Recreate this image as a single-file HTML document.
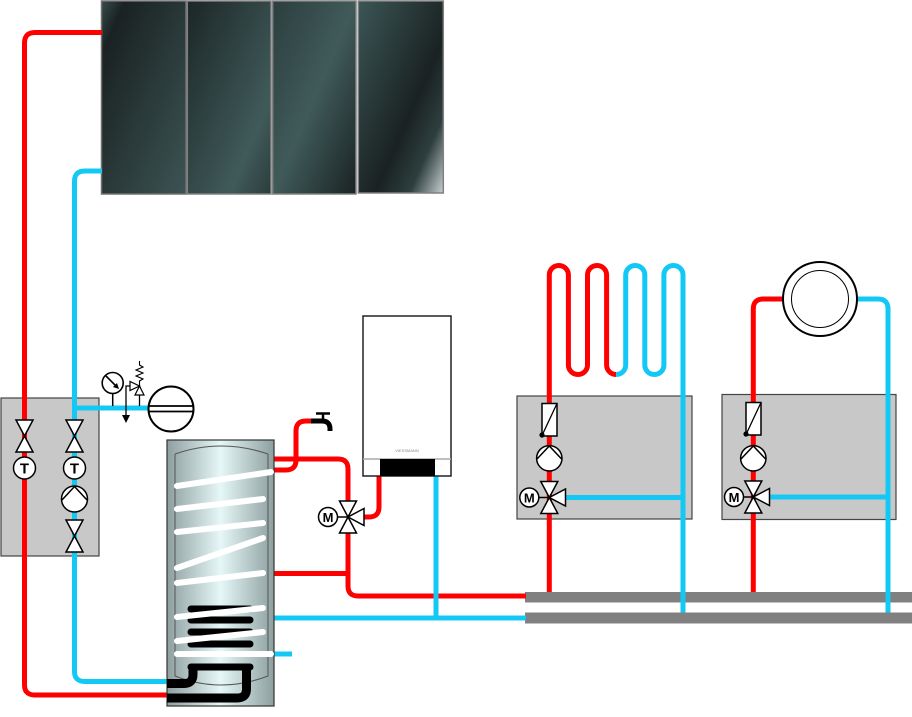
<!DOCTYPE html>
<html><head><meta charset="utf-8"><style>
html,body{margin:0;padding:0;background:#fff;}
svg{display:block;}
text{font-family:"Liberation Sans",sans-serif;}
</style></head><body>
<svg width="912" height="717" viewBox="0 0 912 717" xmlns="http://www.w3.org/2000/svg">
<defs>
<linearGradient id="p1" x1="0" y1="0" x2="1" y2="1"><stop offset="0" stop-color="#364c4c"/><stop offset="0.14" stop-color="#1a2222"/><stop offset="1" stop-color="#3d5454"/></linearGradient>
<linearGradient id="p2" x1="0" y1="0" x2="1" y2="1"><stop offset="0" stop-color="#1c2626"/><stop offset="0.75" stop-color="#405a5a"/><stop offset="1" stop-color="#2c3c3c"/></linearGradient>
<linearGradient id="p3" x1="0" y1="0" x2="1" y2="1"><stop offset="0" stop-color="#2c3e3e"/><stop offset="0.5" stop-color="#405a5a"/><stop offset="1" stop-color="#1a2323"/></linearGradient>
<linearGradient id="p4" x1="0" y1="0" x2="1" y2="1"><stop offset="0" stop-color="#3c5656"/><stop offset="0.6" stop-color="#1a2222"/><stop offset="0.8" stop-color="#2e3e3e"/><stop offset="1" stop-color="#c8d0d0"/></linearGradient>
<linearGradient id="tank" x1="0" y1="0" x2="1" y2="0"><stop offset="0" stop-color="#8e9f9f"/><stop offset="0.5" stop-color="#e6f7f7"/><stop offset="1" stop-color="#8e9f9f"/></linearGradient>
</defs>

<!-- solar panels -->
<rect x="101.5" y="1" width="84.5" height="193" fill="url(#p1)" stroke="#707070" stroke-width="1.5"/>
<rect x="187.3" y="1" width="83.7" height="193" fill="url(#p2)" stroke="#808080" stroke-width="1.5"/>
<rect x="272.7" y="1" width="83.3" height="193" fill="url(#p3)" stroke="#808080" stroke-width="1.5"/>
<rect x="358.3" y="1" width="85" height="192" fill="url(#p4)" stroke="#808080" stroke-width="1.5"/>

<!-- boxes -->
<rect x="1" y="398" width="98" height="158" fill="#c8c8c8" stroke="#444" stroke-width="1.2"/>
<rect x="517" y="396" width="175" height="123" fill="#c8c8c8" stroke="#444" stroke-width="1.2"/>
<rect x="722" y="394.5" width="174" height="125" fill="#c8c8c8" stroke="#444" stroke-width="1.2"/>

<!-- manifold -->
<rect x="525" y="592" width="387" height="10.5" fill="#808080"/>
<rect x="525" y="612.5" width="387" height="11" fill="#808080"/>

<g fill="none" stroke-width="5">
<!-- solar pipes -->
<path d="M102,32.5 H35 Q24.5,32.5 24.5,43 V685 Q24.5,695 35,695 H168" stroke="#ff0000"/>
<path d="M102,171 H85 Q74.5,171 74.5,181 V671.5 Q74.5,681.5 85,681.5 H168" stroke="#14c8f5"/>
<path d="M74.5,408 H150" stroke="#14c8f5"/>

<!-- tank right pipes -->
<path d="M273,470 H286 Q296,470 296,460 V431 Q296,421 306,421 H312" stroke="#ff0000"/>
<path d="M273,459 H338 Q348,459 348,469 V502" stroke="#ff0000"/>
<path d="M273,573.5 H348" stroke="#ff0000"/>
<path d="M348,532 V586 Q348,596 358,596 H526" stroke="#ff0000"/>
<path d="M379,476 V507 Q379,517 369,517 H364" stroke="#ff0000"/>
<path d="M436,476 V618" stroke="#14c8f5"/>
<path d="M273,618 H526" stroke="#14c8f5"/>
<path d="M273,654 H292" stroke="#14c8f5"/>

<!-- tap -->
<path d="M311,421 H322 Q330,421 330,429 V431" stroke="#000"/>

<!-- circuit 1 -->
<path d="M549.3,592 V275 A9.55,9.55 0 0 1 568.4,275 V365 A9.55,9.55 0 0 0 587.5,365 V275 A9.55,9.55 0 0 1 606.6,275 V365 A9.55,9.55 0 0 0 616.15,374.55" stroke="#ff0000"/>
<path d="M616.15,374.55 A9.55,9.55 0 0 0 625.7,365 V275 A9.55,9.55 0 0 1 644.8,275 V365 A9.55,9.55 0 0 0 663.9,365 V275 A9.55,9.55 0 0 1 683,275 V612.5" stroke="#14c8f5"/>
<path d="M566,497.5 H683" stroke="#14c8f5"/>

<!-- circuit 2 -->
<path d="M753.3,592 V309 Q753.3,299 763.3,299 H784" stroke="#ff0000"/>
<path d="M856,299 H878 Q888,299 888,309 V612.5" stroke="#14c8f5"/>
<path d="M770,497 H888" stroke="#14c8f5"/>
</g>

<!-- tap handle -->
<line x1="323" y1="421" x2="323" y2="413.5" stroke="#000" stroke-width="2.5"/>
<line x1="316" y1="413.5" x2="330" y2="413.5" stroke="#000" stroke-width="2.5"/>

<!-- tank -->
<rect x="167" y="440" width="107" height="266" fill="url(#tank)" stroke="#333" stroke-width="1.2"/>
<path d="M175,454 Q221,438 268,454 M175,454 V676 Q221,694 268,676 V454" fill="none" stroke="#555" stroke-width="1"/>
<g stroke="#000" stroke-width="7" stroke-linecap="round" fill="none">
<line x1="191" y1="609" x2="250" y2="609"/>
<line x1="191" y1="620" x2="250" y2="620"/>
<line x1="191" y1="632" x2="250" y2="632"/>
<line x1="191" y1="644" x2="250" y2="644"/>
<line x1="191" y1="667" x2="250" y2="667"/>
</g>
<g stroke="#000" stroke-width="9" fill="none">
<path d="M167,683.5 H184 Q193,683.5 193,674.5 V668"/>
<path d="M167,698 H237 Q246.5,698 246.5,689 V668"/>
</g>
<g stroke="#fff" stroke-width="6" stroke-linecap="round" fill="none">
<line x1="177" y1="486" x2="271" y2="472"/>
<line x1="177" y1="509" x2="263" y2="499"/>
<line x1="177" y1="532" x2="263" y2="523"/>
<line x1="177" y1="568" x2="263" y2="538"/>
<line x1="177" y1="583" x2="263" y2="573"/>
<line x1="177" y1="617" x2="263" y2="608"/>
<line x1="177" y1="641" x2="263" y2="632"/>
<line x1="177" y1="654" x2="271" y2="654"/>
</g>

<!-- boiler -->
<rect x="363" y="316" width="88" height="160" fill="#fff" stroke="#222" stroke-width="1.5"/>
<line x1="363" y1="459" x2="451" y2="459" stroke="#aaa" stroke-width="1.5"/>
<rect x="380" y="459" width="55" height="17" fill="#000"/>
<text x="407" y="452" font-size="4" fill="#888" text-anchor="middle">VIESSMANN</text>

<!-- left station symbols -->
<g fill="#fff" stroke="#000" stroke-width="1.5" stroke-linejoin="miter">
<polygon points="16,420 33,420 24.5,436"/><polygon points="16,452 33,452 24.5,436"/>
<polygon points="66,420 83,420 74.5,436"/><polygon points="66,452 83,452 74.5,436"/>
<polygon points="66,520 83,520 74.5,536"/><polygon points="66,552 83,552 74.5,536"/>
<circle cx="24.5" cy="468" r="11"/>
<circle cx="74.5" cy="468" r="11"/>
<circle cx="74.5" cy="499" r="13"/>
</g>
<path d="M62,500 L74.5,486.5 L87,500" fill="none" stroke="#000" stroke-width="1.5"/>
<text x="24.5" y="473.5" font-size="15" font-weight="bold" text-anchor="middle">T</text>
<text x="74.5" y="473.5" font-size="15" font-weight="bold" text-anchor="middle">T</text>

<!-- gauge + safety valve + expansion vessel -->
<line x1="112.7" y1="393" x2="112.7" y2="406" stroke="#000" stroke-width="1.5"/>
<circle cx="112.7" cy="383" r="10.5" fill="#fff" stroke="#000" stroke-width="1.6"/>
<line x1="106" y1="376" x2="116" y2="386" stroke="#000" stroke-width="1.6"/>
<polygon points="119,389 113,387 117,383" fill="#000"/>
<line x1="139.5" y1="394" x2="139.5" y2="406" stroke="#000" stroke-width="1.3"/>
<polyline points="130,386 126,386 126,416" fill="none" stroke="#000" stroke-width="1.3"/>
<polygon points="122,415 130,415 126,423" fill="#000"/>
<polyline points="139.5,386 139.5,381 143,379 136,376 143,373 136,370 143,367 139.5,365 139.5,361" fill="none" stroke="#000" stroke-width="1.1"/>
<polygon points="130,381.5 130,390.5 139.5,386" fill="#fff" stroke="#000" stroke-width="1.2"/>
<polygon points="135,395 144,395 139.5,386" fill="#fff" stroke="#000" stroke-width="1.2"/>
<circle cx="171" cy="409" r="22.5" fill="#fff" stroke="#000" stroke-width="2"/>
<line x1="149" y1="406" x2="193" y2="406" stroke="#000" stroke-width="1.8"/>
<line x1="149" y1="411.5" x2="193" y2="411.5" stroke="#000" stroke-width="1.8"/>

<!-- 3-way valves -->
<g fill="#fff" stroke="#000" stroke-width="1.5">
<polygon points="339.5,501 356.5,501 348,517"/><polygon points="339.5,533 356.5,533 348,517"/><polygon points="364,508.5 364,525.5 348,517"/>
<line x1="337.5" y1="517" x2="348" y2="517"/><circle cx="328" cy="517" r="9.5"/>
<polygon points="540.8,481.5 557.8,481.5 549.3,497.5"/><polygon points="540.8,513.5 557.8,513.5 549.3,497.5"/><polygon points="565.5,489 565.5,506 549.3,497.5"/>
<line x1="539" y1="497.5" x2="549.3" y2="497.5"/><circle cx="529.3" cy="497.5" r="9.5"/>
<polygon points="744.8,481 761.8,481 753.3,497"/><polygon points="744.8,513 761.8,513 753.3,497"/><polygon points="769.5,488.5 769.5,505.5 753.3,497"/>
<line x1="743.5" y1="497" x2="753.3" y2="497"/><circle cx="734" cy="497" r="9.5"/>
<!-- pumps -->
<circle cx="549.3" cy="458.3" r="12.7"/>
<circle cx="753.3" cy="458.3" r="12.7"/>
<!-- sensors -->
<rect x="542" y="403.5" width="15" height="32.5"/>
<rect x="746" y="402.5" width="15" height="32.5"/>
</g>
<path d="M537,459 L549.3,446 L561.6,459 M741,459 L753.3,446 L765.6,459" fill="none" stroke="#000" stroke-width="1.5"/>
<line x1="542" y1="435.5" x2="557" y2="403.5" stroke="#000" stroke-width="1.3"/>
<line x1="746" y1="434.5" x2="761" y2="402.5" stroke="#000" stroke-width="1.3"/>
<circle cx="542" cy="435" r="2.6" fill="#000"/>
<circle cx="746" cy="434" r="2.6" fill="#000"/>
<text x="328" y="522" font-size="13" font-weight="bold" text-anchor="middle">M</text>
<text x="529.3" y="502.5" font-size="13" font-weight="bold" text-anchor="middle">M</text>
<text x="734" y="502" font-size="13" font-weight="bold" text-anchor="middle">M</text>

<!-- radiator -->
<circle cx="820" cy="299" r="37" fill="#fff" stroke="#000" stroke-width="2"/>
<circle cx="820" cy="299" r="28.5" fill="none" stroke="#000" stroke-width="1"/>
</svg>
</body></html>
